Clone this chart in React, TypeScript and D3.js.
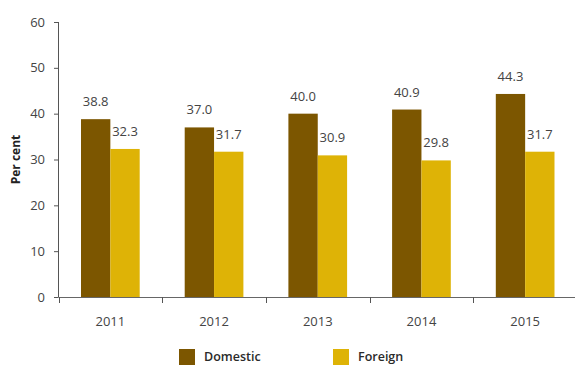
import React from "react";
import * as d3 from "d3";

const years = ["2011", "2012", "2013", "2014", "2015"];
const domestic = [38.8, 37.0, 40.0, 40.9, 44.3];
const foreign = [32.3, 31.7, 30.9, 29.8, 31.7];
const yTicks = [0, 10, 20, 30, 40, 50, 60];
const seriesNames = ["Domestic", "Foreign"];
const colors = ["#7c5600", "#deb306"];

const W = 575;
const H = 365;
const FONT = "'Open Sans', Lato, sans-serif";

export default function App() {
  const x = d3.scaleBand<string>().domain(years).range([58.5, 577]).paddingInner(0).paddingOuter(0);
  const y = d3.scaleLinear().domain([0, 60]).range([297, 22]);
  const barW = x.bandwidth() * 0.283;
  const series = [domestic, foreign];

  return (
    <svg width={W} height={H} style={{ position: "absolute", left: 0, top: 0, background: "#fff" }} fontFamily={FONT}>
      {/* y axis */}
      <line x1={58.5} x2={58.5} y1={y(60)} y2={y(0)} stroke="#555" strokeWidth={1} />
      {yTicks.map((t) => (
        <g key={t}>
          <line x1={54} x2={58.5} y1={y(t) + 0.5} y2={y(t) + 0.5} stroke="#555" />
          <text x={45} y={y(t)} dy="0.35em" textAnchor="end" fontSize={13} fill="#444">
            {t}
          </text>
        </g>
      ))}
      <text
        transform={`translate(20,${(y(0) + y(60)) / 2}) rotate(-90)`}
        textAnchor="middle"
        fontSize={12}
        fontWeight="bold"
        fill="#222"
      >
        Per cent
      </text>
      {/* bars */}
      {years.map((yr, i) => {
        const c = (x(yr) as number) + x.bandwidth() / 2;
        return (
          <g key={yr}>
            {series.map((s, k) => {
              const bx = c - barW + k * barW;
              return (
                <g key={k}>
                  <rect x={bx} y={y(s[i])} width={barW} height={y(0) - y(s[i])} fill={colors[k]} />
                  <text x={bx + barW / 2} y={y(s[i]) - 13} textAnchor="middle" fontSize={13} fill="#444">
                    {s[i].toFixed(1)}
                  </text>
                </g>
              );
            })}
            <text x={c} y={326} textAnchor="middle" fontSize={13} fill="#444">
              {yr}
            </text>
          </g>
        );
      })}
      {/* x axis */}
      <line x1={58.5} x2={W} y1={y(0) + 0.5} y2={y(0) + 0.5} stroke="#666" strokeWidth={1.2} />
      {years.map((yr) => (
        <line
          key={yr}
          x1={Math.round(x(yr) as number) + 0.5}
          x2={Math.round(x(yr) as number) + 0.5}
          y1={y(0)}
          y2={y(0) + 6}
          stroke="#555"
        />
      ))}
      {/* legend */}
      {seriesNames.map((n, k) => (
        <g key={n} transform={`translate(${179 + k * 154},349)`}>
          <rect x={0} y={0} width={16} height={16} fill={colors[k]} />
          <text x={25} y={12} fontSize={12.5} fontWeight={600} fill="#2a2a2a">
            {n}
          </text>
        </g>
      ))}
    </svg>
  );
}
